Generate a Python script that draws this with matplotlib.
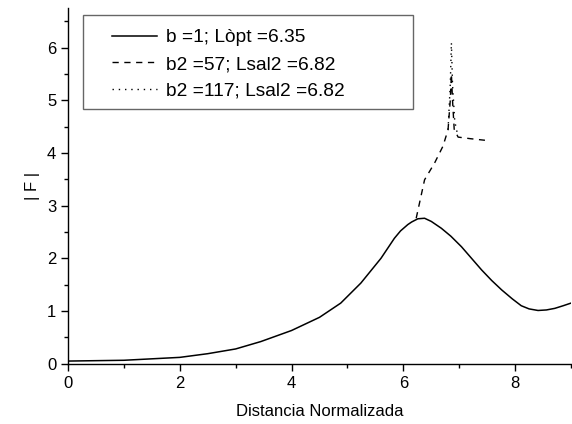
import matplotlib
matplotlib.use("Agg")
import matplotlib.pyplot as plt
from matplotlib.ticker import MultipleLocator
from matplotlib.patches import Rectangle

plt.rcParams['font.family'] = ['Liberation Sans', 'DejaVu Sans']

# b = 1 curve
x_main = [0, 1.0, 2.0, 2.5, 3.0, 3.45, 4.0, 4.5, 4.88, 5.24, 5.6, 5.84, 5.95,
          6.08, 6.15, 6.26, 6.38, 6.5, 6.68, 6.85, 7.04, 7.22, 7.4, 7.58, 7.76,
          7.95, 8.11, 8.25, 8.41, 8.56, 8.71, 8.86, 9.0]
y_main = [0.05, 0.065, 0.12, 0.19, 0.28, 0.42, 0.63, 0.88, 1.15, 1.53, 2.00,
          2.38, 2.52, 2.64, 2.69, 2.75, 2.76, 2.70, 2.57, 2.42, 2.22, 2.00,
          1.78, 1.58, 1.40, 1.23, 1.10, 1.04, 1.01, 1.02, 1.05, 1.10, 1.15]

# b2 = 57 curve
x_b57 = [6.23, 6.38, 6.56, 6.71, 6.80, 6.84, 6.86, 6.88, 6.91, 6.98, 7.2, 7.46]
y_b57 = [2.76, 3.49, 3.81, 4.13, 4.44, 5.00, 5.50, 5.00, 4.45, 4.30, 4.27, 4.24]

# b2 = 117 curve
x_b117 = [6.80, 6.84, 6.86, 6.88, 6.92, 6.96]
y_b117 = [4.44, 5.30, 6.09, 5.30, 4.60, 4.40]

labels = ["b =1; Lòpt =6.35", "b2 =57; Lsal2 =6.82", "b2 =117; Lsal2 =6.82"]

W, H = 572, 424
fig = plt.figure(figsize=(W / 100, H / 100), dpi=100)
ax = fig.add_axes([68 / W, (H - 363.7) / H, 503 / W, 355.7 / H])

ax.plot(x_main, y_main, color='black', lw=1.1, ls='-', label=labels[0])
ax.plot(x_b57, y_b57, color='black', lw=1.0, ls=(0, (4.5, 4)), label=labels[1])
ax.plot(x_b117, y_b117, color='black', lw=1.0, ls=(0, (1, 3.5)), label=labels[2])

ax.set_xlim(0, 9)
ax.set_ylim(0, 6.75)
ax.xaxis.set_major_locator(MultipleLocator(2))
ax.xaxis.set_minor_locator(MultipleLocator(1))
ax.yaxis.set_major_locator(MultipleLocator(1))
ax.yaxis.set_minor_locator(MultipleLocator(0.5))
for s in ['top', 'right']:
    ax.spines[s].set_visible(False)
for s in ['left', 'bottom']:
    ax.spines[s].set_linewidth(1.0)
ax.tick_params(which='major', direction='out', length=5, width=1, labelsize=12)
ax.tick_params(which='minor', direction='out', length=3, width=1)

ax.set_xlabel("Distancia Normalizada", fontsize=12, labelpad=10)
ax.set_ylabel("| F |", fontsize=12, labelpad=5)

# legend frame
frame = Rectangle((83 / W, 1 - 109 / H), 330 / W, 94 / H, transform=fig.transFigure,
                  facecolor='white', edgecolor='#666666', lw=1.0, zorder=4,
                  clip_on=False)
ax.add_artist(frame)

leg = ax.legend(loc='upper left', bbox_to_anchor=(112 / W, 1 - 29 / H),
                bbox_transform=fig.transFigure, borderaxespad=0, borderpad=0,
                frameon=False, fontsize=13.8,
                handlelength=2.35, handletextpad=0.47, labelspacing=0.48)
leg.set_zorder(6)

fig.savefig("out.png", dpi=100)
